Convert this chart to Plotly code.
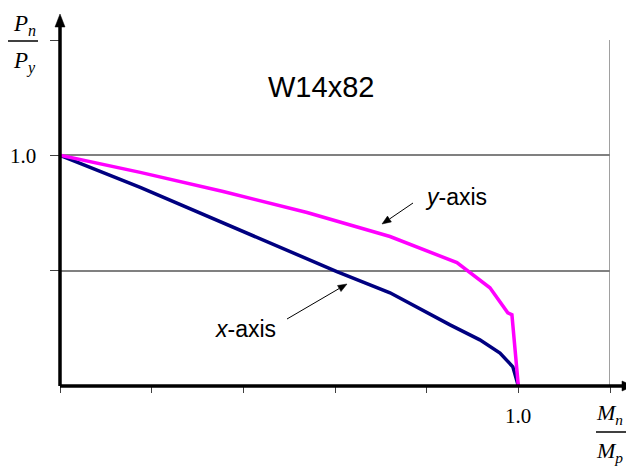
import plotly.graph_objects as go

# x-axis (strong axis) interaction curve: Mn/Mp vs Pn/Py
x_axis_m = [0.0, 0.175, 0.604, 0.720, 0.851, 0.916, 0.960, 0.988, 1.0]
x_axis_p = [1.0, 0.861, 0.496, 0.404, 0.265, 0.200, 0.143, 0.083, 0.0]
# y-axis (weak axis) interaction curve
y_axis_m = [0.0, 0.175, 0.356, 0.539, 0.720, 0.866, 0.938, 0.977, 0.986, 1.0]
y_axis_p = [1.0, 0.926, 0.843, 0.752, 0.648, 0.535, 0.426, 0.317, 0.309, 0.0]

x_ticks = [0, 0.2, 0.4, 0.6, 0.8, 1.0, 1.2]
y_ticks = [0.5, 1.0, 1.5]
tick_label = "1.0"

# plot area in window pixels (page body has 8px margin)
L, R, T, B = 60, 610, 40, 386
W, H = 634, 467
OFF = 8


def px(x, y):
    return (x - L) / (R - L), (B - y) / (B - T)


fig = go.Figure()
fig.add_trace(go.Scatter(x=x_axis_m, y=x_axis_p, mode="lines",
                         line=dict(color="#000080", width=3.5), showlegend=False))
fig.add_trace(go.Scatter(x=y_axis_m, y=y_axis_p, mode="lines",
                         line=dict(color="#FF00FF", width=3.5), showlegend=False))

serif = "Liberation Serif"
sans = "Liberation Sans"

fig.update_layout(
    width=W, height=H,
    margin=dict(l=L - OFF, r=W + OFF - R, t=T - OFF, b=H + OFF - B),
    paper_bgcolor="white", plot_bgcolor="white",
    xaxis=dict(range=[0, 1.2], tickvals=x_ticks, showticklabels=False,
               showgrid=False, zeroline=False, showline=False,
               ticks="outside", ticklen=6, tickcolor="#404040", tickwidth=1.2),
    yaxis=dict(range=[0, 1.5], tickvals=y_ticks, showticklabels=False,
               showgrid=True, gridcolor="#808080", gridwidth=2,
               zeroline=False, showline=False,
               ticks="outside", ticklen=9, tickcolor="#404040", tickwidth=1.2),
)

# right border
fig.add_shape(type="line", xref="x", yref="y", x0=1.2, x1=1.2, y0=0, y1=1.5,
              line=dict(color="#808080", width=1.5))


def line_px(x0, y0, x1, y1, width, color="black"):
    a, b = px(x0, y0)
    c, d = px(x1, y1)
    fig.add_shape(type="line", xref="paper", yref="paper", x0=a, y0=b, x1=c, y1=d,
                  line=dict(color=color, width=width))


def tri_px(pts, color="black"):
    p = [px(x, y) for x, y in pts]
    path = "M {} {} L {} {} L {} {} Z".format(p[0][0], p[0][1], p[1][0], p[1][1], p[2][0], p[2][1])
    fig.add_shape(type="path", xref="paper", yref="paper", path=path,
                  fillcolor=color, line=dict(color=color, width=0.5))


# axes with arrows
line_px(L, B, 624, B, 3.5)
tri_px([(634, B), (622, B - 5), (622, B + 5)])
line_px(L, B, L, 26, 3.5)
tri_px([(L, 14), (L - 5, 27), (L + 5, 27)])

# pointer arrows
line_px(413, 203, 389.5, 219.0, 1)
tri_px([(382, 224), (391.4, 221.9), (387.5, 216.1)])
line_px(287, 319, 339.2, 288.5, 1)
tri_px([(347, 284), (341.0, 291.6), (337.5, 285.5)])


def text_px(x, y, text, size, family, xanchor="center"):
    a, b = px(x, y)
    fig.add_annotation(xref="paper", yref="paper", x=a, y=b, text=text, showarrow=False,
                       xanchor=xanchor, yanchor="middle",
                       font=dict(family=family, size=size, color="black"))


text_px(321, 87, "W14x82", 29, sans)
text_px(423, 197, "<i>y</i>-axis", 23, sans, xanchor="left")
text_px(278, 329, "<i>x</i>-axis", 23, sans, xanchor="right")

text_px(23, 156, tick_label, 21, serif)
text_px(518, 416, tick_label, 21, serif)

# fraction labels
text_px(11, 25, "<i>P</i><sub><i>n</i></sub>", 23, serif, xanchor="left")
line_px(8, 41, 38, 41, 1.5)
text_px(11, 62, "<i>P</i><sub><i>y</i></sub>", 23, serif, xanchor="left")

text_px(594, 414, "<i>M</i><sub><i>n</i></sub>", 22, serif, xanchor="left")
line_px(596, 432, 634, 432, 1.5)
text_px(594, 452, "<i>M</i><sub><i>p</i></sub>", 22, serif, xanchor="left")

fig.write_html("out.html")
